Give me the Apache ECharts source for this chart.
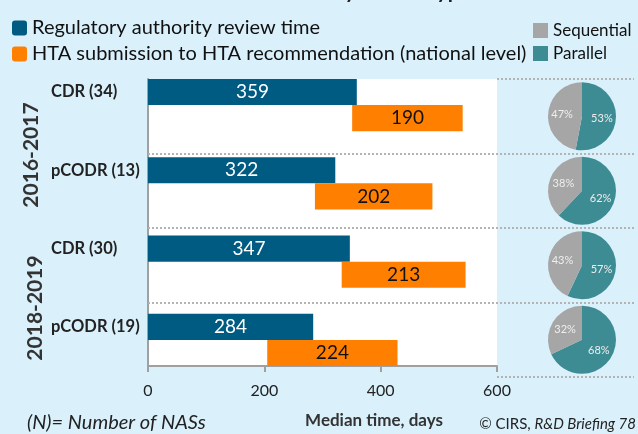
<!DOCTYPE html>
<html>
<head>
<meta charset="utf-8">
<script src="https://cdn.jsdelivr.net/npm/echarts@6/dist/echarts.min.js"></script>
<style>
  html, body { margin: 0; padding: 0; background: #daf1fc; }
  #main { width: 638px; height: 434px; }
</style>
</head>
<body>
<div id="main"></div>
<script>
// data
var groups = ['CDR (34)', 'pCODR (13)', 'CDR (30)', 'pCODR (19)']
var reviewDays = [359, 322, 347, 284]
var htaStart = [351, 287, 333, 205]
var htaDays = [190, 202, 213, 224]
var parallelPct = [53, 62, 57, 68]
var sequentialPct = [47, 38, 43, 32]
var periods = ['2016-2017', '2018-2019']
var xTicks = [0, 200, 400, 600]

var REVIEW = 'Regulatory authority review time'
var HTA = 'HTA submission to HTA recommendation (national level)'
var FONT = 'Lato, "Open Sans", sans-serif'
// square with slightly rounded corners for the legend keys
var KEY = 'path://M3,0H12A3,3,0,0,1,15,3V12A3,3,0,0,1,12,15H3A3,3,0,0,1,0,12V3A3,3,0,0,1,3,0Z'

// layout
var gridLeft = 148
var gridRight = 497
var gridTop = 79
var gridBottom = 377
var bandH = (gridBottom - gridTop) / groups.length

// one row for the review bar, one for the HTA bar, one spacer between groups
var rows = []
var rowLabel = {}
var offsetData = []
var reviewData = []
var htaData = []
for (let i = 0; i < groups.length; i++) {
  rows.push('rev' + i)
  rowLabel['rev' + i] = groups[i]
  offsetData.push(0)
  reviewData.push(reviewDays[i])
  htaData.push('-')
  rows.push('hta' + i)
  offsetData.push(htaStart[i])
  reviewData.push('-')
  htaData.push(htaDays[i])
  if (i < groups.length - 1) {
    rows.push('gap' + i)
    offsetData.push('-')
    reviewData.push('-')
    htaData.push('-')
  }
}

var pieSeries = []
for (let i = 0; i < groups.length; i++) {
  pieSeries.push({
    name: groups[i],
    type: 'pie',
    center: [582, gridTop + bandH * (i + 0.5)],
    radius: 34,
    startAngle: 90,
    clockwise: true,
    silent: true,
    data: [
      { name: 'Parallel', value: parallelPct[i], itemStyle: { color: '#3e8c93' } },
      { name: 'Sequential', value: sequentialPct[i], itemStyle: { color: '#a6a6a6' } }
    ],
    label: {
      position: 'inside',
      formatter: '{c}%',
      fontFamily: FONT,
      fontSize: 11,
      color: '#eeeeee'
    },
    labelLine: { show: false }
  })
}

// dotted separators between the groups
var graphics = []
for (let k = 0; k <= groups.length; k++) {
  let y = Math.round(gridTop + bandH * k)
  let x1 = (k === 0 || k === groups.length) ? gridRight : gridLeft
  graphics.push({
    type: 'line',
    silent: true,
    z: 5,
    shape: { x1: x1, y1: y, x2: 634, y2: y },
    style: { stroke: '#b4b4b4', lineWidth: 2, lineDash: [2, 2] }
  })
}
var periodPos = [[31, 155], [35, 308]]
for (let p = 0; p < periods.length; p++) {
  graphics.push({
    type: 'text',
    x: periodPos[p][0],
    y: periodPos[p][1],
    rotation: Math.PI / 2,
    style: {
      text: periods[p],
      fontFamily: FONT,
      fontWeight: 'bold',
      fontSize: 21,
      fill: '#333',
      align: 'center',
      verticalAlign: 'middle'
    }
  })
}
graphics.push({
  type: 'text', x: 27, y: 423,
  style: { text: '(N)= Number of NASs', fontFamily: FONT, fontStyle: 'italic', fontSize: 20, fill: '#222', verticalAlign: 'middle' }
})
graphics.push({
  type: 'text', x: 636, y: 424,
  style: {
    text: '© CIRS, {i|R&D Briefing 78}',
    rich: { i: { fontStyle: 'italic', fontFamily: FONT, fontSize: 15, fill: '#222' } },
    fontFamily: FONT, fontSize: 15, fill: '#222', align: 'right', verticalAlign: 'middle'
  }
})

var myChart = echarts.init(document.getElementById('main'))
myChart.setOption({
  animation: false,
  backgroundColor: '#daf1fc',
  title: {
    text: 'Median timelines by review type',
    left: 'center',
    top: -24.5,
    textStyle: { fontFamily: FONT, fontSize: 21, fontWeight: 'bold', color: '#222' }
  },
  legend: [
    {
      data: [REVIEW, HTA],
      orient: 'vertical',
      left: 7,
      top: 13,
      itemWidth: 15,
      itemHeight: 16,
      itemGap: 6,
      itemTextGap: 5,
      icon: KEY,
      selectedMode: false,
      textStyle: { fontFamily: FONT, fontSize: 20, color: '#111' }
    },
    {
      data: ['Sequential', 'Parallel'],
      orient: 'vertical',
      left: 528,
      top: 17,
      itemWidth: 15,
      itemHeight: 15,
      itemGap: 6,
      itemTextGap: 8,
      icon: 'rect',
      selectedMode: false,
      textStyle: { fontFamily: FONT, fontSize: 17, color: '#111' }
    }
  ],
  grid: {
    left: gridLeft,
    top: gridTop,
    width: gridRight - gridLeft,
    height: gridBottom - gridTop,
    show: true,
    backgroundColor: '#fff',
    borderWidth: 0
  },
  xAxis: {
    type: 'value',
    min: xTicks[0],
    max: xTicks[xTicks.length - 1],
    interval: xTicks[1] - xTicks[0],
    name: 'Median time, days',
    nameLocation: 'middle',
    nameGap: 46,
    nameTextStyle: { fontFamily: FONT, fontSize: 17, fontWeight: 'bold', color: '#333', padding: [0, 0, 0, 103] },
    axisLine: { show: true, lineStyle: { color: '#a0a0a0', width: 2 } },
    axisTick: { show: true, length: 6, lineStyle: { color: '#a0a0a0', width: 2 } },
    axisLabel: { fontFamily: FONT, fontSize: 16, color: '#222', margin: 17 },
    splitLine: { show: false }
  },
  yAxis: {
    type: 'category',
    inverse: true,
    data: rows,
    axisLine: { show: true, lineStyle: { color: '#a0a0a0', width: 2 } },
    axisTick: { show: false },
    axisLabel: {
      interval: 0,
      align: 'left',
      margin: 97,
      fontFamily: FONT,
      fontSize: 16.5,
      fontWeight: 'bold',
      color: '#222',
      formatter: function (v) { return rowLabel[v] || '' }
    }
  },
  series: [
    {
      name: 'offset',
      type: 'bar',
      stack: 'time',
      barCategoryGap: 0,
      silent: true,
      itemStyle: { color: 'transparent' },
      data: offsetData
    },
    {
      name: REVIEW,
      type: 'bar',
      stack: 'time',
      barCategoryGap: 0,
      itemStyle: { color: '#005b82' },
      label: { show: true, position: 'inside', fontFamily: FONT, fontSize: 19, color: '#fff' },
      data: reviewData
    },
    {
      name: HTA,
      type: 'bar',
      stack: 'time',
      barCategoryGap: 0,
      itemStyle: { color: '#ff8000' },
      label: { show: true, position: 'inside', fontFamily: FONT, fontSize: 19, color: '#111' },
      data: htaData
    }
  ].concat(pieSeries),
  graphic: graphics
})
</script>
</body>
</html>
